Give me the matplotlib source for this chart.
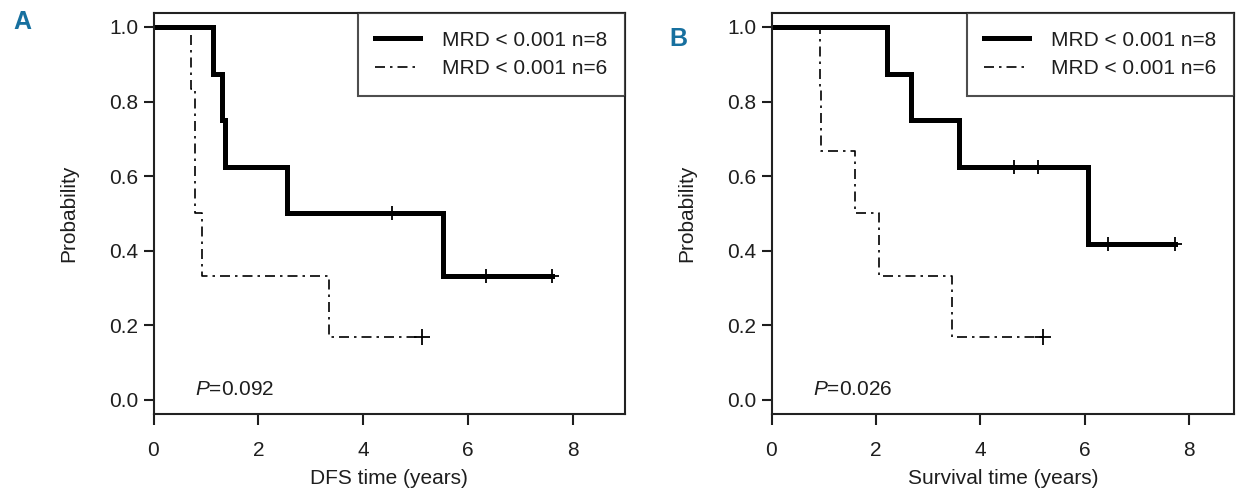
import matplotlib
matplotlib.use("Agg")
import matplotlib.pyplot as plt
from matplotlib.lines import Line2D

plt.rcParams['font.family'] = ['Liberation Sans', 'DejaVu Sans']
plt.rcParams['mathtext.fontset'] = 'custom'
plt.rcParams['mathtext.it'] = 'Liberation Sans:italic'
plt.rcParams['mathtext.rm'] = 'Liberation Sans'

# ---------------- data ----------------
labels = ["MRD < 0.001 n=8", "MRD < 0.001 n=6"]
x_ticks = [0, 2, 4, 6, 8]
y_ticks = [0.0, 0.2, 0.4, 0.6, 0.8, 1.0]

# Panel A (DFS)
a_low_t = [0, 1.13, 1.31, 1.36, 2.54, 5.52, 7.60]
a_low_s = [1.0, 0.875, 0.75, 0.625, 0.5, 0.333, 0.333]
a_low_cens_t = [4.55, 6.34, 7.60]
a_low_cens_s = [0.5, 0.333, 0.333]
a_high_t = [0, 0.71, 0.79, 0.92, 3.35, 5.12]
a_high_s = [1.0, 0.833, 0.5, 0.333, 0.167, 0.167]
a_high_cens_t = [5.12]
a_high_cens_s = [0.167]

# Panel B (OS)
b_low_t = [0, 2.22, 2.67, 3.60, 6.07, 7.73]
b_low_s = [1.0, 0.875, 0.75, 0.625, 0.417, 0.417]
b_low_cens_t = [4.65, 5.11, 6.44, 7.73]
b_low_cens_s = [0.625, 0.625, 0.417, 0.417]
b_high_t = [0, 0.92, 0.95, 1.60, 2.06, 3.45, 5.21]
b_high_s = [1.0, 0.833, 0.667, 0.5, 0.333, 0.167, 0.167]
b_high_cens_t = [5.21]
b_high_cens_s = [0.167]

panels = [
    dict(letter="A", xlabel="DFS time (years)", ptext="=0.092",
         low=(a_low_t, a_low_s, a_low_cens_t, a_low_cens_s),
         high=(a_high_t, a_high_s, a_high_cens_t, a_high_cens_s),
         xmax=9.0),
    dict(letter="B", xlabel="Survival time (years)", ptext="=0.026",
         low=(b_low_t, b_low_s, b_low_cens_t, b_low_cens_s),
         high=(b_high_t, b_high_s, b_high_cens_t, b_high_cens_s),
         xmax=8.86),
]

W, H = 1236, 492
fig = plt.figure(figsize=(W / 100, H / 100), dpi=100)
fig.patch.set_facecolor("white")

TXT = "#1e1e1e"
BLUE = "#17709f"
FS = 15
dash = (0, (6, 3, 1.5, 3))

axes_px = [(153.5, 625), (771.5, 1234)]
letter_px = [(22, 22), (678, 39)]
top_px, bot_px = 13, 413.5

for p, (l, r), (lx, ly) in zip(panels, axes_px, letter_px):
    ax = fig.add_axes([l / W, 1 - bot_px / H, (r - l) / W, (bot_px - top_px) / H])
    t, s, ct, cs = p["low"]
    ax.step(t, s, where="post", color="black", lw=3.6, solid_joinstyle="miter")
    ax.plot(ct, cs, ls="none", marker="+", ms=10, mew=1.3, color="black")
    t, s, ct, cs = p["high"]
    ax.step(t, s, where="post", color="black", lw=1.2, ls=dash)
    ax.plot(ct, cs, ls="none", marker="+", ms=12, mew=1.3, color="black")

    ax.set_xlim(0, p["xmax"])
    ax.set_ylim(-0.037, 1.0375)
    ax.set_xticks(x_ticks)
    ax.set_xticklabels([str(v) for v in x_ticks])
    ax.set_yticks(y_ticks)
    ax.set_yticklabels([f"{v:.1f}" for v in y_ticks])
    for sp in ax.spines.values():
        sp.set_linewidth(1.5)
        sp.set_color("#222222")
    ax.tick_params(axis="y", length=7, width=1.5, pad=4, labelsize=FS, colors=TXT)
    ax.tick_params(axis="x", length=8, width=1.5, pad=12, labelsize=FS, colors=TXT)
    ax.set_xlabel(p["xlabel"], fontsize=FS, color=TXT, labelpad=6)
    ax.set_ylabel("Probability", fontsize=FS, color=TXT, labelpad=22)

    ax.text(0.8, 0.027, r"$\it{P}$" + p["ptext"], fontsize=FS, color=TXT,
            ha="left", va="center")

    handles = [Line2D([], [], color="black", lw=3.6),
               Line2D([], [], color="black", lw=1.2, ls=dash)]
    leg = ax.legend(handles, labels, loc="upper right", fontsize=FS,
                    frameon=True, fancybox=False, borderaxespad=0,
                    handlelength=2.15, handletextpad=1.05, labelspacing=0.45,
                    borderpad=0.85)
    leg.get_frame().set_edgecolor("#222222")
    leg.get_frame().set_linewidth(1.5)
    for txt in leg.get_texts():
        txt.set_color(TXT)

    fig.text(lx / W, 1 - ly / H, p["letter"], fontsize=18, fontweight="bold",
             color=BLUE, ha="center", va="center", fontstretch="condensed",
             family=["Liberation Sans Narrow", "Liberation Sans", "DejaVu Sans"])

fig.savefig("out.png", dpi=100)
